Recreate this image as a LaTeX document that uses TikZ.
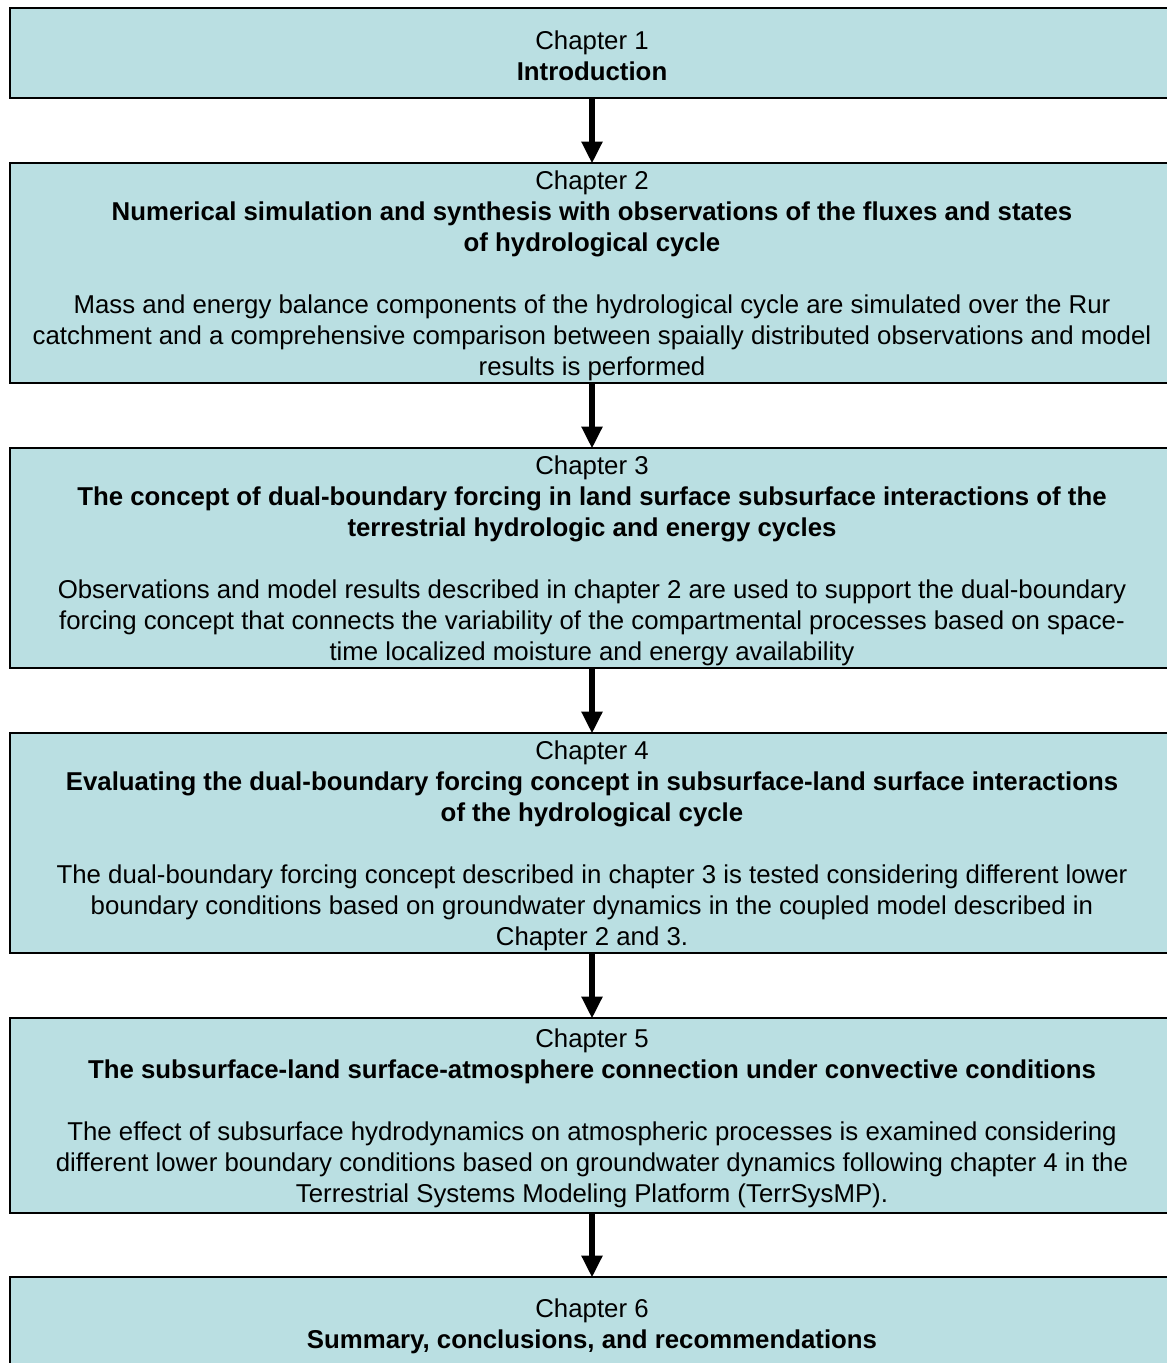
\documentclass[tikz,border=0pt]{standalone}
\usepackage{fontspec}
\setmainfont{Liberation Sans}
\usetikzlibrary{arrows.meta}
\definecolor{boxfill}{HTML}{BADFE2}
\begin{document}
\begin{tikzpicture}[x=1pt,y=-1pt,
  chapbox/.style={draw=black, line width=2pt, fill=boxfill, rectangle,
    minimum width=1164pt, inner sep=0pt, outer sep=0pt, anchor=north},
  chaptext/.style={align=center, inner sep=0pt, yshift=-3pt,
    font=\fontsize{25.8}{31}\selectfont},
  flow/.style={line width=6pt, -{Triangle[width=20pt,length=22pt]}, shorten >=-0.5pt}
]
\useasboundingbox (0,0) rectangle (1167,1363);

% chapter boxes
\node[chapbox, minimum height=90pt]  (c1) at (592,8) {};
\node[chapbox, minimum height=220pt] (c2) at (592,163) {};
\node[chapbox, minimum height=220pt] (c3) at (592,448) {};
\node[chapbox, minimum height=220pt] (c4) at (592,733) {};
\node[chapbox, minimum height=195pt] (c5) at (592,1018) {};
\node[chapbox, minimum height=93pt]  (c6) at (592,1277) {};

% chapter texts
\node[chaptext] (t1) at (c1.center)
  {Chapter 1\\\textbf{Introduction}};

\node[chaptext] (t2) at (c2.center)
  {Chapter 2\\
   \textbf{Numerical simulation and synthesis with observations of the fluxes and states}\\
   \textbf{of hydrological cycle}\\[31pt]
   Mass and energy balance components of the hydrological cycle are simulated over the Rur\\
   catchment and a comprehensive comparison between spaially distributed observations and model\\
   results is performed};

\node[chaptext] (t3) at (c3.center)
  {Chapter 3\\
   \textbf{The concept of dual-boundary forcing in land surface subsurface interactions of the}\\
   \textbf{terrestrial hydrologic and energy cycles}\\[31pt]
   Observations and model results described in chapter 2 are used to support the dual-boundary\\
   forcing concept that connects the variability of the compartmental processes based on space-\\
   time localized moisture and energy availability};

\node[chaptext] (t4) at (c4.center)
  {Chapter 4\\
   \textbf{Evaluating the dual-boundary forcing concept in subsurface-land surface interactions}\\
   \textbf{of the hydrological cycle}\\[31pt]
   The dual-boundary forcing concept described in chapter 3 is tested considering different lower\\
   boundary conditions based on groundwater dynamics in the coupled model described in\\
   Chapter 2 and 3.};

\node[chaptext] (t5) at (c5.center)
  {Chapter 5\\
   \textbf{The subsurface-land surface-atmosphere connection under convective conditions}\\[31pt]
   The effect of subsurface hydrodynamics on atmospheric processes is examined considering\\
   different lower boundary conditions based on groundwater dynamics following chapter 4 in the\\
   Terrestrial Systems Modeling Platform (TerrSysMP).};

\node[chaptext] (t6) at (c6.center)
  {Chapter 6\\\textbf{Summary, conclusions, and recommendations}};

% reading order
\draw[flow] (c1.south) -- (c2.north);
\draw[flow] (c2.south) -- (c3.north);
\draw[flow] (c3.south) -- (c4.north);
\draw[flow] (c4.south) -- (c5.north);
\draw[flow] (c5.south) -- (c6.north);
\end{tikzpicture}
\end{document}
